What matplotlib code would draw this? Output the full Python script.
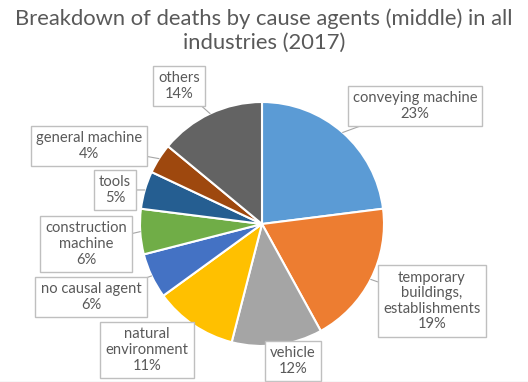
import matplotlib.pyplot as plt
import numpy as np

labels = ["conveying machine", "temporary\nbuildings,\nestablishments", "vehicle",
          "natural\nenvironment", "no causal agent", "construction\nmachine",
          "tools", "general machine", "others"]
shares = [23, 19, 12, 11, 6, 6, 5, 4, 14]
colours = ["#5B9BD5", "#ED7D31", "#A5A5A5", "#FFC000", "#4472C4",
           "#70AD47", "#255E91", "#9E480E", "#636363"]

# label box centres in pixels (x from left, y from top)
label_pos = [(415, 106), (432, 301), (293, 361), (147, 350), (91, 297),
             (86, 244), (115, 190), (89, 146), (179, 86)]

W, H = 528, 382
fig = plt.figure(figsize=(W / 100, H / 100), dpi=100)
plt.rcParams['font.family'] = ['Lato', 'DejaVu Sans']
txt = "#595959"

fig.text(0.5, 1 - 31 / H, "Breakdown of deaths by cause agents (middle) in all\nindustries (2017)",
         ha="center", va="center", fontsize=15.8, color=txt, linespacing=1.25)

# pie centre (262, 224), radius 122 px
cx, cy, r = 262, 224, 122
ax = fig.add_axes([(cx - r) / W, (H - cy - r) / H, 2 * r / W, 2 * r / H])
wedges, _ = ax.pie(shares, colors=colours, startangle=90, counterclock=False,
                   radius=1, wedgeprops=dict(edgecolor="white", linewidth=1.5))
ax.set_xlim(-1, 1)
ax.set_ylim(-1, 1)
ax.set_aspect("equal")
ax.axis("off")

for w, lab, share, (px, py) in zip(wedges, labels, shares, label_pos):
    ang = np.deg2rad((w.theta1 + w.theta2) / 2)
    xy = (1.0 * np.cos(ang), 1.0 * np.sin(ang))
    ax.annotate(f"{lab}\n{share}%", xy=xy, xycoords="data",
                xytext=(px / W, 1 - py / H), textcoords="figure fraction",
                ha="center", va="center", fontsize=10.6, color=txt,
                linespacing=1.15, annotation_clip=False,
                bbox=dict(boxstyle="square,pad=0.35", fc="white", ec="#BFBFBF", lw=1),
                arrowprops=dict(arrowstyle="-", color="#A6A6A6", lw=0.8,
                                shrinkA=0, shrinkB=0))

fig.add_artist(plt.Line2D([0, 1], [0.5 / H, 0.5 / H], color="#D9D9D9", lw=1,
                          transform=fig.transFigure))

fig.savefig("out.png", dpi=100)
